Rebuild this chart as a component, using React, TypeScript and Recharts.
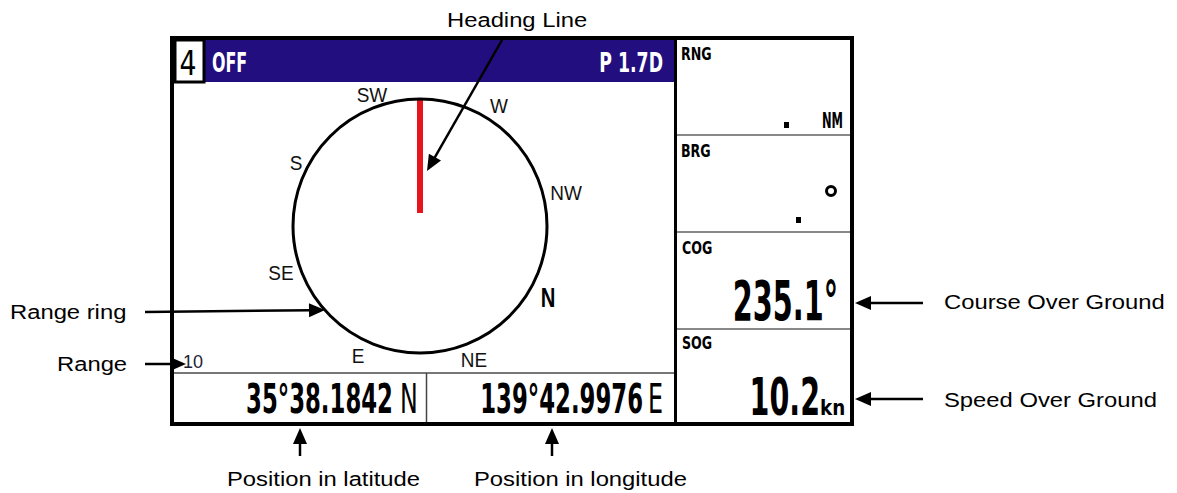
import { ScatterChart, Scatter, XAxis, YAxis, ReferenceArea, ReferenceLine, ReferenceDot } from 'recharts';

// Diagram drawn on a pixel-like grid: x 0..1177, y 0..493 (top to bottom)
type Kind =
  | 'callout' | 'compass' | 'compassBold' | 'rangeNum'
  | 'boxNum' | 'modeL' | 'modeR' | 'tag' | 'unitNM'
  | 'bigCog' | 'bigSog' | 'unitKn' | 'posNum' | 'posHemi';

interface Txt { label: string; x: number; y: number; kind: Kind }

// Callout captions around the display
const callouts: Txt[] = [
  { label: 'Heading Line', x: 447, y: 27, kind: 'callout' },
  { label: 'Range ring', x: 10, y: 319, kind: 'callout' },
  { label: 'Range', x: 57, y: 371, kind: 'callout' },
  { label: 'Course Over Ground', x: 944, y: 309, kind: 'callout' },
  { label: 'Speed Over Ground', x: 944, y: 407, kind: 'callout' },
  { label: 'Position in latitude', x: 227, y: 486, kind: 'callout' },
  { label: 'Position in longitude', x: 474, y: 486, kind: 'callout' },
];

// Compass points around the range ring (course up, COG 235.1)
const compassPoints: Txt[] = [
  { label: 'SW', x: 372, y: 102, kind: 'compass' },
  { label: 'W', x: 499, y: 113, kind: 'compass' },
  { label: 'S', x: 296, y: 170, kind: 'compass' },
  { label: 'NW', x: 566, y: 200, kind: 'compass' },
  { label: 'SE', x: 281, y: 280, kind: 'compass' },
  { label: 'N', x: 548, y: 307, kind: 'compassBold' },
  { label: 'E', x: 358, y: 363, kind: 'compass' },
  { label: 'NE', x: 474, y: 367, kind: 'compass' },
  { label: '10', x: 183, y: 368, kind: 'rangeNum' },
];

// Screen texts
const headerTexts: Txt[] = [
  { label: '4', x: 188, y: 75, kind: 'boxNum' },
  { label: 'OFF', x: 212, y: 72, kind: 'modeL' },
  { label: 'P 1.7D', x: 663, y: 72, kind: 'modeR' },
];

const panelTags: Txt[] = [
  { label: 'RNG', x: 681, y: 60, kind: 'tag' },
  { label: 'NM', x: 843, y: 128, kind: 'unitNM' },
  { label: 'BRG', x: 681, y: 157, kind: 'tag' },
  { label: 'COG', x: 682, y: 254, kind: 'tag' },
  { label: '235.1°', x: 838, y: 320, kind: 'bigCog' },
  { label: 'SOG', x: 682, y: 349, kind: 'tag' },
  { label: '10.2', x: 820, y: 415, kind: 'bigSog' },
  { label: 'kn', x: 820, y: 415, kind: 'unitKn' },
];

const positionTexts: Txt[] = [
  { label: '35°38.1842', x: 393, y: 413, kind: 'posNum' },
  { label: 'N', x: 400, y: 413, kind: 'posHemi' },
  { label: '139°42.9976', x: 643, y: 413, kind: 'posNum' },
  { label: 'E', x: 648, y: 413, kind: 'posHemi' },
];

// Range ring and heading line
const rangeRing = { x: 420, y: 226, r: 127 };
const headingLine = [{ x: 420, y: 99 }, { x: 420, y: 213 }];

// Empty value placeholders (decimal points) in RNG / BRG
const emptyDots = [
  { x1: 784, x2: 789, y1: 122, y2: 128 },
  { x1: 796, x2: 801, y1: 217, y2: 223 },
];
const brgDegree = { x: 831, y: 191 };

// Arrows: from -> to (tip)
const arrows = [
  { from: { x: 502, y: 40 }, to: { x: 427, y: 171 } },
  { from: { x: 145, y: 312 }, to: { x: 325, y: 310 } },
  { from: { x: 145, y: 364 }, to: { x: 186, y: 364 } },
  { from: { x: 923, y: 303 }, to: { x: 855, y: 303 } },
  { from: { x: 923, y: 399 }, to: { x: 855, y: 399 } },
  { from: { x: 300, y: 456 }, to: { x: 300, y: 428 } },
  { from: { x: 552, y: 456 }, to: { x: 552, y: 428 } },
];

const SANS = '"Liberation Sans", Arial, sans-serif';
const NARROW = '"Liberation Sans Narrow", "DejaVu Sans Condensed", "Roboto Condensed", sans-serif';

const textStyle: Record<Kind, { family: string; size: number; weight: number; sx: number; fill: string; anchor: 'start' | 'middle' | 'end' }> = {
  callout: { family: SANS, size: 20, weight: 400, sx: 1.19, fill: '#000', anchor: 'start' },
  compass: { family: SANS, size: 20, weight: 400, sx: 0.95, fill: '#111', anchor: 'middle' },
  compassBold: { family: SANS, size: 27, weight: 700, sx: 0.75, fill: '#000', anchor: 'middle' },
  rangeNum: { family: SANS, size: 18, weight: 400, sx: 1, fill: '#1c2433', anchor: 'start' },
  boxNum: { family: NARROW, size: 33, weight: 400, sx: 0.9, fill: '#000', anchor: 'middle' },
  modeL: { family: NARROW, size: 26, weight: 700, sx: 0.68, fill: '#fff', anchor: 'start' },
  modeR: { family: NARROW, size: 26, weight: 700, sx: 0.74, fill: '#fff', anchor: 'end' },
  tag: { family: NARROW, size: 18, weight: 700, sx: 0.78, fill: '#000', anchor: 'start' },
  unitNM: { family: NARROW, size: 22, weight: 700, sx: 0.58, fill: '#000', anchor: 'end' },
  bigCog: { family: NARROW, size: 56, weight: 700, sx: 0.57, fill: '#000', anchor: 'end' },
  bigSog: { family: NARROW, size: 52, weight: 700, sx: 0.61, fill: '#000', anchor: 'end' },
  unitKn: { family: NARROW, size: 21, weight: 700, sx: 0.97, fill: '#000', anchor: 'start' },
  posNum: { family: NARROW, size: 40, weight: 700, sx: 0.634, fill: '#000', anchor: 'end' },
  posHemi: { family: NARROW, size: 40, weight: 400, sx: 0.66, fill: '#000', anchor: 'start' },
};

const renderText = (props: any) => {
  const { cx, cy, payload } = props;
  const s = textStyle[payload.kind as Kind];
  return (
    <text
      transform={`translate(${cx},${cy}) scale(${s.sx},1)`}
      x={0}
      y={0}
      textAnchor={s.anchor}
      fontFamily={s.family}
      fontSize={s.size}
      fontWeight={s.weight}
      fill={s.fill}
    >
      {payload.label}
    </text>
  );
};

const renderArrow = (props: any) => {
  const { x1, y1, x2, y2 } = props;
  const len = Math.hypot(x2 - x1, y2 - y1) || 1;
  const ux = (x2 - x1) / len;
  const uy = (y2 - y1) / len;
  const head = 16;
  const half = 7;
  const bx = x2 - ux * head;
  const by = y2 - uy * head;
  return (
    <g>
      <line x1={x1} y1={y1} x2={bx + ux * 2} y2={by + uy * 2} stroke="#000" strokeWidth={2.5} />
      <polygon
        points={`${x2},${y2} ${bx - uy * half},${by + ux * half} ${bx + uy * half},${by - ux * half}`}
        fill="#000"
      />
    </g>
  );
};

export default function App() {
  return (
    <div style={{ position: 'absolute', left: 0, top: 0, background: '#fff' }}>
      <ScatterChart width={1177} height={493} margin={{ top: 0, right: 0, bottom: 0, left: 0 }}>
        <XAxis type="number" dataKey="x" domain={[0, 1177]} scale="linear" allowDataOverflow hide />
        <YAxis type="number" dataKey="y" domain={[0, 493]} scale="linear" allowDataOverflow reversed hide />

        {/* display frame */}
        <ReferenceArea x1={172} x2={852} y1={38} y2={424} fill="#fff" fillOpacity={1} stroke="#000" strokeWidth={4} />
        <ReferenceArea x1={174} x2={675} y1={40} y2={82} fill="#220E7E" fillOpacity={1} stroke="none" />
        <ReferenceArea x1={175} x2={204} y1={40} y2={82} fill="#fff" fillOpacity={1} stroke="#000" strokeWidth={3} />
        {emptyDots.map((d, i) => (
          <ReferenceArea key={`dot-${i}`} {...d} fill="#000" fillOpacity={1} stroke="none" />
        ))}

        {/* panel separators */}
        <ReferenceLine segment={[{ x: 675.5, y: 38 }, { x: 675.5, y: 424 }]} stroke="#000" strokeWidth={3} />
        <ReferenceLine segment={[{ x: 677, y: 135 }, { x: 850, y: 135 }]} stroke="#888" strokeWidth={2} />
        <ReferenceLine segment={[{ x: 677, y: 232 }, { x: 850, y: 232 }]} stroke="#888" strokeWidth={2} />
        <ReferenceLine segment={[{ x: 677, y: 329 }, { x: 850, y: 329 }]} stroke="#888" strokeWidth={2} />
        <ReferenceLine segment={[{ x: 174, y: 373 }, { x: 674, y: 373 }]} stroke="#777" strokeWidth={2} />
        <ReferenceLine segment={[{ x: 426.5, y: 373 }, { x: 426.5, y: 422 }]} stroke="#444" strokeWidth={1.5} />

        {/* range ring + heading line */}
        <ReferenceDot x={rangeRing.x} y={rangeRing.y} r={rangeRing.r} fill="none" stroke="#000" strokeWidth={3} />
        <ReferenceLine segment={headingLine} stroke="#E8141B" strokeWidth={6} />
        <ReferenceDot x={brgDegree.x} y={brgDegree.y} r={4.5} fill="#fff" stroke="#000" strokeWidth={3} />

        {/* callout arrows */}
        {arrows.map((a, i) => (
          <ReferenceLine key={`arrow-${i}`} segment={[a.from, a.to]} shape={renderArrow} />
        ))}

        <Scatter data={headerTexts} shape={renderText} isAnimationActive={false} />
        <Scatter data={panelTags} shape={renderText} isAnimationActive={false} />
        <Scatter data={positionTexts} shape={renderText} isAnimationActive={false} />
        <Scatter data={compassPoints} shape={renderText} isAnimationActive={false} />
        <Scatter data={callouts} shape={renderText} isAnimationActive={false} />
      </ScatterChart>
    </div>
  );
}
